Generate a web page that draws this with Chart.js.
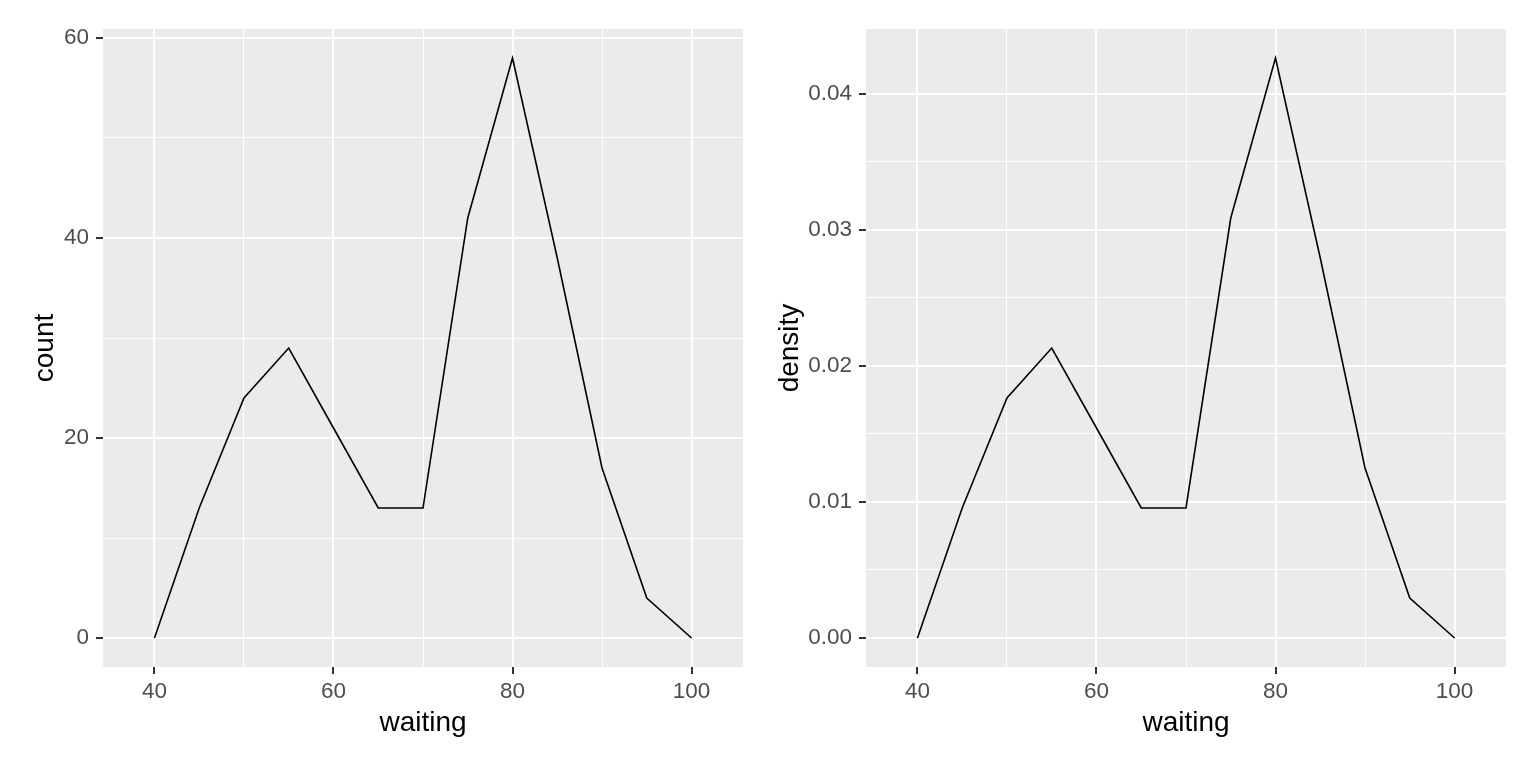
<!DOCTYPE html>
<html>
<head>
<meta charset="utf-8">
<script src="https://cdn.jsdelivr.net/npm/chart.js@4/dist/chart.umd.min.js"></script>
<style>
  html, body { margin: 0; padding: 0; background: #ffffff; }
  #wrap { position: relative; width: 1536px; height: 768px; }
  .panel { position: absolute; top: 0; width: 768px; height: 768px; }
  #p1 { left: 0; }
  #p2 { left: 768px; }
</style>
</head>
<body>
<div id="wrap">
  <div class="panel" id="p1"><canvas id="c1" width="768" height="768"></canvas></div>
  <div class="panel" id="p2"><canvas id="c2" width="768" height="768"></canvas></div>
</div>
<script>
// ---- data ----
const waiting = [40, 45, 50, 55, 60, 65, 70, 75, 80, 85, 90, 95, 100];
const counts = [0, 13, 24, 29, 21, 13, 13, 42, 58, 38, 17, 4, 0];
const densities = [0, 0.00956, 0.01765, 0.02132, 0.01544, 0.00956, 0.00956, 0.03088, 0.04265, 0.02794, 0.0125, 0.00294, 0];
const xTicks = [40, 50, 60, 70, 80, 90, 100];
const xMajor = [40, 60, 80, 100];
const countTicks = [0, 10, 20, 30, 40, 50, 60];
const countMajor = [0, 20, 40, 60];
const densityTicks = [0, 0.005, 0.01, 0.015, 0.02, 0.025, 0.03, 0.035, 0.04];
const densityMajor = [0, 0.01, 0.02, 0.03, 0.04];

const FONT = "'Liberation Sans', Arial, sans-serif";
const PANEL_BG = '#EBEBEB';

const panelBg = {
  id: 'panelBg',
  beforeDraw(chart) {
    const a = chart.chartArea;
    const ctx = chart.ctx;
    ctx.save();
    ctx.fillStyle = PANEL_BG;
    ctx.fillRect(a.left, a.top, a.right - a.left, a.bottom - a.top);
    ctx.restore();
  }
};

function isMajor(v, majors) {
  return majors.some(m => Math.abs(m - v) < 1e-9);
}

function makeChart(canvasId, yValues, yTitle, yMin, yMax, yTickVals, yMajorVals, yFmt, yAxisWidth, yTitlePad, rightPad) {
  const pts = waiting.map((x, i) => ({ x: x, y: yValues[i] }));
  return new Chart(document.getElementById(canvasId), {
    type: 'line',
    data: {
      datasets: [{
        data: pts,
        borderColor: '#000000',
        borderWidth: 1.6,
        pointRadius: 0,
        pointHoverRadius: 0,
        tension: 0,
        fill: false
      }]
    },
    options: {
      responsive: false,
      animation: false,
      events: [],
      layout: { padding: { top: 29, right: rightPad, bottom: 0, left: 0 } },
      plugins: { legend: { display: false }, tooltip: { enabled: false } },
      scales: {
        x: {
          type: 'linear',
          min: 34.25,
          max: 105.75,
          border: { display: false },
          afterBuildTicks(scale) { scale.ticks = xTicks.map(v => ({ value: v })); },
          afterFit(scale) { scale.height = 101; },
          grid: {
            color: '#FFFFFF',
            lineWidth: ctx => (ctx.tick && isMajor(ctx.tick.value, xMajor)) ? 2 : 1,
            tickColor: ctx => (ctx.tick && isMajor(ctx.tick.value, xMajor)) ? '#333333' : 'rgba(0,0,0,0)',
            tickWidth: 2,
            tickLength: 7,
            drawTicks: true
          },
          ticks: {
            autoSkip: false,
            maxRotation: 0,
            padding: 4,
            color: '#4D4D4D',
            font: { family: FONT, size: 22.5 },
            callback: v => isMajor(v, xMajor) ? String(v) : ''
          },
          title: {
            display: true,
            text: 'waiting',
            color: '#000000',
            font: { family: FONT, size: 28 },
            padding: { top: 0, bottom: 28 }
          }
        },
        y: {
          type: 'linear',
          min: yMin,
          max: yMax,
          border: { display: false },
          afterBuildTicks(scale) { scale.ticks = yTickVals.map(v => ({ value: v })); },
          afterFit(scale) { scale.width = yAxisWidth; },
          grid: {
            color: '#FFFFFF',
            lineWidth: ctx => (ctx.tick && isMajor(ctx.tick.value, yMajorVals)) ? 2 : 1,
            tickColor: ctx => (ctx.tick && isMajor(ctx.tick.value, yMajorVals)) ? '#333333' : 'rgba(0,0,0,0)',
            tickWidth: 2,
            tickLength: 7,
            drawTicks: true
          },
          ticks: {
            autoSkip: false,
            padding: 7,
            color: '#4D4D4D',
            font: { family: FONT, size: 22.5 },
            callback: v => isMajor(v, yMajorVals) ? yFmt(v) : ''
          },
          title: {
            display: true,
            text: yTitle,
            color: '#000000',
            font: { family: FONT, size: 28 },
            padding: { top: yTitlePad, bottom: 0 }
          }
        }
      }
    },
    plugins: [panelBg]
  });
}

makeChart('c1', counts, 'count', -2.9, 60.9, countTicks, countMajor, v => String(Math.round(v)), 103, 28, 25);
makeChart('c2', densities, 'density', -0.0021324, 0.0447794, densityTicks, densityMajor, v => v.toFixed(2), 98, 5, 30);
</script>
</body>
</html>
